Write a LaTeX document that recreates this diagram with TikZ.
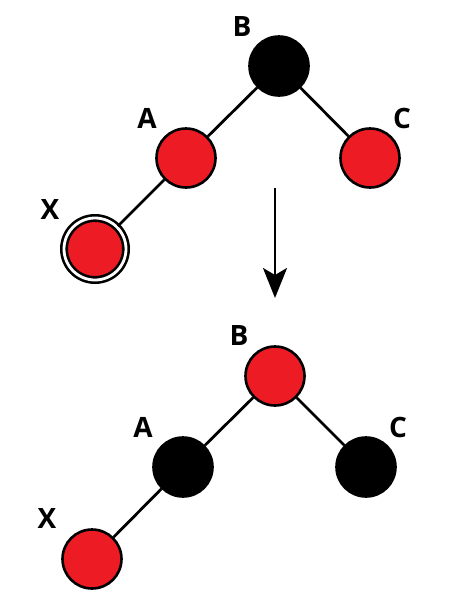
\documentclass[tikz,border=0pt]{standalone}
\usepackage{fontspec}
\usepackage{tikz}
\newfontfamily\lblfont{Open Sans}
\definecolor{NodeRed}{RGB}{237,28,36}
\usetikzlibrary{arrows.meta,positioning}
\tikzset{
    rbnode/.style={circle, draw=black, line width=2.6pt, minimum size=59pt, inner sep=0pt},
    rednode/.style={rbnode, fill=NodeRed},
    blacknode/.style={rbnode, fill=black},
    dblnode/.style={circle, draw=black, double=white, double distance=2.8pt, line width=2.6pt, fill=NodeRed, minimum size=62pt, inner sep=0pt},
    lbl/.style={font=\lblfont\bfseries\fontsize{28}{28}\selectfont, inner sep=0pt},
    edge/.style={line width=2.8pt}
}
\begin{document}
\begin{tikzpicture}[x=1pt, y=-1pt]
\useasboundingbox (0,0) rectangle (456,614);

%before the recolouring
\node[blacknode] (b1) at (279,66){};
\node[rednode] (a1) at (186,158){};
\node[rednode] (c1) at (370,158){};
\node[dblnode] (x1) at (95,249){};
\draw[edge] (b1) -- (a1);
\draw[edge] (b1) -- (c1);
\draw[edge] (a1) -- (x1);

\node[lbl] (lb1) at (242,27){B};
\node[lbl] (la1) at (147,118){A};
\node[lbl] (lc1) at (402,118){C};
\node[lbl] (lx1) at (50,210){X};

%the arrow between the two trees
\coordinate (arrtop) at (275,188);
\coordinate (arrbot) at (275,298);
\draw[line width=2.8pt, -{Stealth[length=30pt, width=24pt, inset=7pt]}] (arrtop) -- (arrbot);

%after the recolouring
\node[rednode] (b2) at (275,376){};
\node[blacknode] (a2) at (183,467){};
\node[blacknode] (c2) at (366,467){};
\node[rednode] (x2) at (92,559){};
\draw[edge] (b2) -- (a2);
\draw[edge] (b2) -- (c2);
\draw[edge] (a2) -- (x2);

\node[lbl] (lb2) at (239,335){B};
\node[lbl] (la2) at (143,427){A};
\node[lbl] (lc2) at (398,427){C};
\node[lbl] (lx2) at (47,518){X};
\end{tikzpicture}
\end{document}
